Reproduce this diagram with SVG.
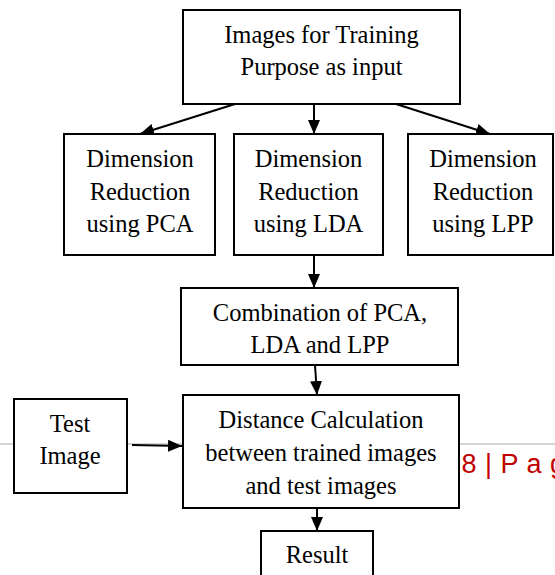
<svg xmlns="http://www.w3.org/2000/svg" width="555" height="575" viewBox="0 0 555 575">
  <style>
    .box { fill: #ffffff; stroke: #000000; stroke-width: 2; }
    .lbl { font-size: 24.5px; fill: #000000; text-anchor: middle; }
    .edge { stroke: #000000; stroke-width: 2; fill: none; marker-end: url(#ah); }
    .rule { stroke: #d4d4d4; stroke-width: 2; }
    .folio { font-size: 27px; fill: #c00000; letter-spacing: 0.5px; }
  </style>
  <defs>
    <marker id="ah" markerWidth="14" markerHeight="12" refX="14" refY="6" orient="auto" markerUnits="userSpaceOnUse">
      <path d="M0,0 L14,6 L0,12 z" fill="#000000"/>
    </marker>
  </defs>

  <!-- page rule and page number behind the flowchart -->
  <line class="rule" x1="0" y1="444" x2="555" y2="444"/>
  <text class="folio" font-family="Liberation Sans, Arial, sans-serif" x="446" y="473">58 | P a g e</text>

  <!-- connectors -->
  <g id="connectors">
    <line class="edge" x1="235" y1="104" x2="140" y2="134"/>
    <line class="edge" x1="314" y1="104" x2="314" y2="134"/>
    <line class="edge" x1="396" y1="104" x2="490" y2="134"/>
    <line class="edge" x1="314" y1="255" x2="314" y2="288"/>
    <line class="edge" x1="315" y1="365" x2="317" y2="395"/>
    <line class="edge" x1="132" y1="445" x2="182" y2="446"/>
    <line class="edge" x1="317" y1="508" x2="317" y2="531"/>
  </g>

  <g font-family="Liberation Serif, Times New Roman, serif">
    <g id="input">
      <rect class="box" x="183" y="10" width="277" height="94"/>
      <text class="lbl" x="321.5" y="43">Images for Training</text>
      <text class="lbl" x="321.5" y="75">Purpose as input</text>
    </g>

    <g id="pca">
      <rect class="box" x="64" y="134" width="151" height="121"/>
      <text class="lbl" x="140" y="167">Dimension</text>
      <text class="lbl" x="140" y="200">Reduction</text>
      <text class="lbl" x="140" y="232">using PCA</text>
    </g>

    <g id="lda">
      <rect class="box" x="234" y="134" width="149" height="121"/>
      <text class="lbl" x="308.5" y="167">Dimension</text>
      <text class="lbl" x="308.5" y="200">Reduction</text>
      <text class="lbl" x="308.5" y="232">using LDA</text>
    </g>

    <g id="lpp">
      <rect class="box" x="408" y="134" width="145" height="121"/>
      <text class="lbl" x="483" y="167">Dimension</text>
      <text class="lbl" x="483" y="200">Reduction</text>
      <text class="lbl" x="483" y="232">using LPP</text>
    </g>

    <g id="combination">
      <rect class="box" x="181" y="288" width="277" height="77"/>
      <text class="lbl" x="320" y="321">Combination of PCA,</text>
      <text class="lbl" x="320" y="353">LDA and LPP</text>
    </g>

    <g id="test">
      <rect class="box" x="14" y="399" width="113" height="94"/>
      <text class="lbl" x="70" y="432">Test</text>
      <text class="lbl" x="70" y="464">Image</text>
    </g>

    <g id="distance">
      <rect class="box" x="183" y="395" width="276" height="113"/>
      <text class="lbl" x="321" y="428">Distance Calculation</text>
      <text class="lbl" x="321" y="461">between trained images</text>
      <text class="lbl" x="321" y="494">and test images</text>
    </g>

    <g id="result">
      <rect class="box" x="261" y="531" width="112" height="60"/>
      <text class="lbl" x="317" y="563">Result</text>
    </g>
  </g>
</svg>
